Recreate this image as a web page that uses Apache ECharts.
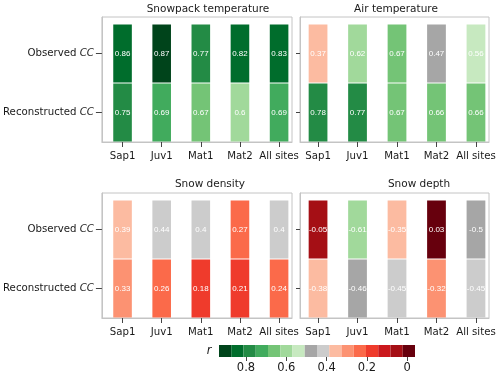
<!DOCTYPE html>
<html>
<head>
<meta charset="utf-8">
<script src="https://cdn.jsdelivr.net/npm/echarts@6/dist/echarts.min.js"></script>
<style>
  html, body { margin: 0; padding: 0; background: #fff; }
  #chart { width: 500px; height: 378px; }
</style>
</head>
<body>
<div id="chart"></div>
<script>
// categories
const sites = ['Sap1', 'Juv1', 'Mat1', 'Mat2', 'All sites'];
const rows = ['Reconstructed', 'Observed']; // y index 0 = bottom row
const variables = ['Snowpack temperature', 'Air temperature', 'Snow density', 'Snow depth'];

// correlation r, one value per site
const snowpackObserved = [0.86, 0.87, 0.77, 0.82, 0.83];
const snowpackReconstructed = [0.75, 0.69, 0.67, 0.6, 0.69];
const airObserved = [0.37, 0.62, 0.67, 0.47, 0.56];
const airReconstructed = [0.78, 0.77, 0.67, 0.66, 0.66];
const densityObserved = [0.39, 0.44, 0.4, 0.27, 0.4];
const densityReconstructed = [0.33, 0.26, 0.18, 0.21, 0.24];
const depthObserved = [-0.05, -0.61, -0.35, 0.03, -0.5];
const depthReconstructed = [-0.38, -0.46, -0.45, -0.32, -0.45];

// colour classes for |r|, dark green -> dark red (same order as the colour bar)
const classColors = ['#00441b', '#006d2c', '#238b45', '#41ab5d', '#74c476', '#a1d99b', '#c7e9c0',
  '#a6a6a6', '#cccccc', '#fcbba1', '#fc9272', '#fb6a4a', '#ef3b2c', '#cb181d', '#a50f15', '#67000d'];
const classBounds = [1, 0.865, 0.8, 0.72, 0.68, 0.64, 0.58, 0.52, 0.455, 0.395, 0.34, 0.3, 0.22, 0.16, 0.1, 0.04, 0];
const colorbarTicks = [0.8, 0.6, 0.4, 0.2, 0];

const panelData = [
  [snowpackObserved, snowpackReconstructed],
  [airObserved, airReconstructed],
  [densityObserved, densityReconstructed],
  [depthObserved, depthReconstructed]
];

// layout of the 2x2 panels (pixels)
const panels = [
  { left: 101, top: 17, width: 191, height: 125, xMin: -0.527, titleX: 208, titleY: 9.5, yLabels: true },
  { left: 300, top: 17, width: 189, height: 125, xMin: -0.457, titleX: 396, titleY: 9.5, yLabels: false },
  { left: 101, top: 193, width: 191, height: 125, xMin: -0.527, titleX: 210, titleY: 184, yLabels: true },
  { left: 300, top: 193, width: 189, height: 125, xMin: -0.457, titleX: 419, titleY: 184, yLabels: false }
];
const CELL_W = 0.475;
const FONT = 'DejaVu Sans';
const TEXT = '#1a1a1a';
const BOX = '#c4c4c4';

const chart = echarts.init(document.getElementById('chart'));

const grids = [], xAxes = [], yAxes = [], series = [], graphics = [];

panels.forEach((p, i) => {
  grids.push({
    left: p.left, top: p.top, width: p.width, height: p.height,
    show: true, borderColor: BOX, borderWidth: 1, backgroundColor: 'transparent'
  });
  xAxes.push({
    type: 'value', gridIndex: i, min: p.xMin, max: 4.33,
    axisLine: { show: true, onZero: false, lineStyle: { color: BOX } },
    splitLine: { show: false },
    axisTick: { show: true, length: 5, customValues: [0, 1, 2, 3, 4], lineStyle: { color: '#444' } },
    axisLabel: {
      customValues: [0, 1, 2, 3, 4], margin: 9,
      formatter: (v) => sites[Math.round(v)],
      fontFamily: FONT, fontSize: 10.2, color: TEXT
    }
  });
  yAxes.push({
    type: 'value', gridIndex: i, min: -0.5, max: 1.62,
    axisLine: { show: true, onZero: false, lineStyle: { color: BOX } },
    splitLine: { show: false },
    axisTick: { show: true, length: p.yLabels ? 6 : 4, customValues: [0, 1], lineStyle: { color: '#444' } },
    axisLabel: {
      show: p.yLabels, customValues: [0, 1], margin: 8,
      formatter: (v) => '{n|' + rows[Math.round(v)] + ' }{i|CC}',
      rich: {
        n: { fontFamily: FONT, fontSize: 10.2, color: TEXT },
        i: { fontFamily: FONT, fontSize: 10.2, color: TEXT, fontStyle: 'italic' }
      }
    }
  });
  const data = [];
  panelData[i].forEach((vals, k) => {
    const y = k === 0 ? 1 : 0; // observed on top
    vals.forEach((r, x) => data.push([x, y, r, Math.abs(r)]));
  });
  series.push({
    type: 'custom', xAxisIndex: i, yAxisIndex: i,
    encode: { x: 0, y: 1 },
    data: data,
    renderItem: (params, api) => {
      const x = api.value(0), y = api.value(1);
      const p0 = api.coord([x - CELL_W / 2, y + 0.5]);
      const p1 = api.coord([x + CELL_W / 2, y - 0.5]);
      return {
        type: 'rect',
        shape: { x: p0[0], y: p0[1] + 0.5, width: p1[0] - p0[0], height: p1[1] - p0[1] - 1 },
        style: { fill: api.visual('color') },
        textContent: {
          style: { text: String(api.value(2)), fill: '#fff', fontFamily: 'Liberation Sans', fontSize: 8 }
        },
        textConfig: { position: 'inside' }
      };
    }
  });
  graphics.push({
    type: 'text', x: p.titleX, y: p.titleY,
    style: { text: variables[i], fontFamily: FONT, fontSize: 10.5, fill: TEXT, align: 'center', verticalAlign: 'middle' }
  });
});

// colour bar
grids.push({ left: 219, top: 345, width: 196, height: 12 });
xAxes.push({
  type: 'category', gridIndex: 4, position: 'top', show: false,
  data: classColors.map((c, k) => k)
});
xAxes.push({
  type: 'value', gridIndex: 4, position: 'bottom', inverse: true, min: -0.039, max: 0.934,
  axisLine: { show: false, onZero: false },
  splitLine: { show: false },
  axisTick: { show: true, length: 4, customValues: colorbarTicks, lineStyle: { color: '#444' } },
  axisLabel: {
    customValues: colorbarTicks, margin: 5,
    formatter: (v) => String(v),
    fontFamily: FONT, fontSize: 11.5, color: TEXT
  }
});
yAxes.push({ type: 'value', gridIndex: 4, min: 0, max: 1, show: false });
series.push({
  type: 'bar', xAxisIndex: 4, yAxisIndex: 4, barCategoryGap: 0,
  data: classColors.map((c) => ({ value: 1, itemStyle: { color: c } }))
});
graphics.push({
  type: 'text', x: 209, y: 351,
  style: { text: 'r', fontFamily: FONT, fontSize: 11.5, fontStyle: 'italic', fill: TEXT, align: 'center', verticalAlign: 'middle' }
});

// |r| classes -> colours
const pieces = classColors.map((c, k) => ({ gte: classBounds[k + 1], lt: classBounds[k], color: c }));
pieces[0] = { gte: classBounds[1], lte: classBounds[0], color: classColors[0] };

chart.setOption({
  animation: false,
  grid: grids,
  xAxis: xAxes,
  yAxis: yAxes,
  visualMap: {
    type: 'piecewise', show: false, dimension: 3,
    seriesIndex: [0, 1, 2, 3],
    pieces: pieces
  },
  graphic: graphics,
  series: series
});
</script>
</body>
</html>
